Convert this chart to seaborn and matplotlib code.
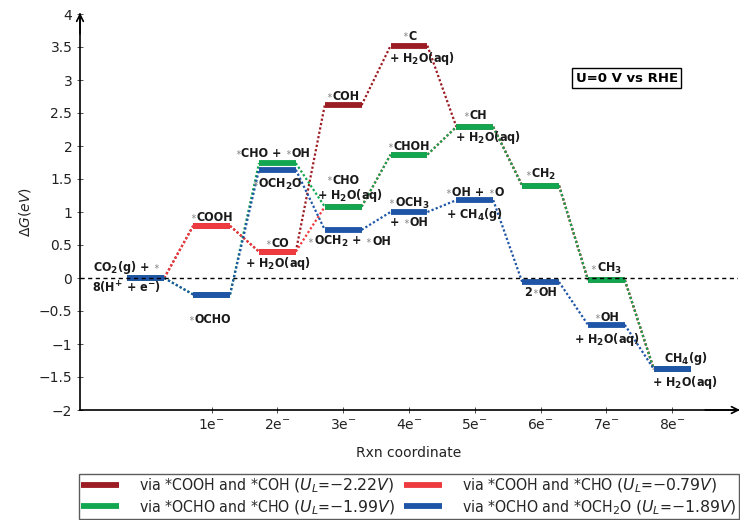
import re
import matplotlib
matplotlib.use("Agg")
import matplotlib.pyplot as plt
import matplotlib.lines as mlines
from matplotlib import font_manager as fm
from matplotlib.transforms import offset_copy
import numpy as np
import pandas as pd
import seaborn as sns

# ---------------- data ----------------
steps = [0, 1, 2, 3, 4, 5, 6, 7, 8]
xtick_pos = [1, 2, 3, 4, 5, 6, 7, 8]
xtick_labels = ["1e$^{-}$", "2e$^{-}$", "3e$^{-}$", "4e$^{-}$",
                "5e$^{-}$", "6e$^{-}$", "7e$^{-}$", "8e$^{-}$"]
ytick_pos = [-2, -1.5, -1, -0.5, 0, 0.5, 1, 1.5, 2, 2.5, 3, 3.5, 4]
ytick_labels = ["\u22122", "\u22121.5", "\u22121", "\u22120.5", "0", "0.5", "1",
                "1.5", "2", "2.5", "3", "3.5", "4"]

pathway_names = [
    r"via *COOH and *COH $\mathit{(U_L}$=$\mathit{-2.22V)}$",
    r"via *COOH and *CHO $\mathit{(U_L}$=$\mathit{-0.79V)}$",
    r"via *OCHO and *CHO $\mathit{(U_L}$=$\mathit{-1.99V)}$",
    r"via *OCHO and *OCH$_2$O $\mathit{(U_L}$=$\mathit{-1.89V)}$",
]
pathway_colors = ["#9b1c22", "#ee3b40", "#12a650", "#1f55a6"]

G_cooh_coh = [0.00, 0.79, 0.40, 2.62, 3.52, 2.29, 1.40, -0.03, -1.38]
G_cooh_cho = [0.00, 0.79, 0.40, 1.08, 1.87, 2.29, 1.40, -0.03, -1.38]
G_ocho_cho = [0.00, -0.25, 1.74, 1.08, 1.87, 2.29, 1.40, -0.03, -1.38]
G_ocho_och2o = [0.00, -0.25, 1.64, 0.73, 1.00, 1.18, -0.06, -0.71, -1.38]
pathway_values = [G_cooh_coh, G_cooh_cho, G_ocho_cho, G_ocho_och2o]

S = "\u2217"
label_texts = [
    "CO$_\\mathbf{2}$(g) + " + S, "8(H$^\\mathbf{+}$ + e$^\\mathbf{-}$)",
    S + "COOH", S + "OCHO",
    S + "CHO + " + S + "OH", S + "OCH$_\\mathbf{2}$O", S + "CO", "+ H$_\\mathbf{2}$O(aq)",
    S + "COH", S + "CHO", "+ H$_\\mathbf{2}$O(aq)", S + "OCH$_\\mathbf{2}$ + " + S + "OH",
    S + "C", "+ H$_\\mathbf{2}$O(aq)", S + "CHOH", S + "OCH$_\\mathbf{3}$", "+ " + S + "OH",
    S + "CH", "+ H$_\\mathbf{2}$O(aq)", S + "OH + " + S + "O", "+ CH$_\\mathbf{4}$(g)",
    S + "CH$_\\mathbf{2}$", "2" + S + "OH",
    S + "CH$_\\mathbf{3}$", S + "OH", "+ H$_\\mathbf{2}$O(aq)",
    "CH$_\\mathbf{4}$(g)", "+ H$_\\mathbf{2}$O(aq)",
]
label_x = [-0.30, -0.30,
           1.00, 0.97,
           1.93, 2.00, 2.00, 2.00,
           3.00, 3.00, 3.10, 3.09,
           4.00, 4.20, 4.00, 4.00, 4.00,
           5.00, 5.20, 5.00, 5.00,
           6.00, 6.00,
           7.00, 7.00, 7.00,
           8.20, 8.20]
label_y = [0.17, -0.15,
           0.93, -0.61,
           1.90, 1.43, 0.54, 0.24,
           2.77, 1.50, 1.27, 0.57,
           3.68, 3.34, 2.01, 1.15, 0.86,
           2.47, 2.14, 1.31, 0.97,
           1.58, -0.20,
           0.16, -0.59, -0.91,
           -1.20, -1.57]

half_w = 0.28

# ---------------- tidy tables ----------------
bar_rows, con_rows = [], []
for name, vals in zip(pathway_names, pathway_values):
    for i, (s, g) in enumerate(zip(steps, vals)):
        bar_rows += [(name, f"b{i}", s - half_w, g), (name, f"b{i}", s + half_w, g)]
        if i < len(steps) - 1:
            con_rows += [(name, f"c{i}", s + half_w, g),
                         (name, f"c{i}", steps[i + 1] - half_w, vals[i + 1])]
bars = pd.DataFrame(bar_rows, columns=["pathway", "unit", "x", "y"])
cons = pd.DataFrame(con_rows, columns=["pathway", "unit", "x", "y"])

# ---------------- style ----------------
sns.set_theme(style="ticks")
plt.rcParams["font.family"] = ["DejaVu Sans"]
plt.rcParams["mathtext.fontset"] = "dejavusans"

_p = fm.findfont(fm.FontProperties(family="DejaVu Sans", stretch="condensed",
                                   weight="bold"))
COND = "Condensed" in _p
LAB_SIZE = 9 if COND else 8
lab_prop = dict(family="DejaVu Sans", stretch="condensed" if COND else "normal",
                size=LAB_SIZE, weight="bold")
STAR_SIZE = LAB_SIZE * 0.62
leg_prop = fm.FontProperties(family="DejaVu Sans",
                             stretch="condensed" if COND else "normal",
                             size=11.3 if COND else 10)

fig = plt.figure(figsize=(7.4, 5.2), dpi=100)
ax = fig.add_axes([80 / 740, 110 / 520, 658 / 740, 396 / 520])

for name, col in zip(pathway_names, pathway_colors):
    sns.lineplot(data=cons[cons.pathway == name], x="x", y="y", units="unit",
                 estimator=None, sort=False, color=col, lw=1.6,
                 linestyle=(0, (1, 1)), ax=ax, legend=False)
    sns.lineplot(data=bars[bars.pathway == name], x="x", y="y", units="unit",
                 estimator=None, sort=False, color=col, lw=4.2,
                 solid_capstyle="butt", ax=ax, legend=False)

ax.axhline(0, color="black", lw=1.0, ls=(0, (3, 2.5)), zorder=5)

ax.set_xlim(-1, 9)
ax.set_ylim(-2, 4)

# ---------------- state labels with small grey asterisks ----------------
renderer = fig.canvas.get_renderer()
px = 100 / 72


def draw_label(x, y, text):
    toks = [t for t in re.split("(" + S + ")", text) if t != ""]
    for i in range(len(toks) - 1):
        stripped = toks[i].rstrip(" ")
        n = len(toks[i]) - len(stripped)
        if n:
            toks[i] = stripped
            toks[i + 1] = " " * n + toks[i + 1]
    objs, widths, raises = [], [], []
    for t in toks:
        is_star = t.strip() == S
        kw = dict(lab_prop)
        if is_star:
            if t.startswith(" "):
                # keep the space at the label size, star smaller
                sp = ax.text(x, y, " ", ha="left", va="baseline", **lab_prop)
                objs.append(sp)
                widths.append(0.30 * LAB_SIZE * px)
                raises.append(0.0)
                t = S
            kw["weight"] = "normal"
            kw["size"] = STAR_SIZE
        o = ax.text(x, y, t, ha="left", va="baseline", zorder=6,
                    color="#8f8f8f" if is_star else "#1a1a1a", **kw)
        objs.append(o)
        w = o.get_window_extent(renderer).width
        widths.append(w + (0.6 if is_star else 0.0))
        raises.append((0.36 * LAB_SIZE - 0.30 * STAR_SIZE) * px if is_star else 0.0)
    total = sum(widths)
    cur = -total / 2.0
    dy = -0.36 * LAB_SIZE * px
    for o, w, r in zip(objs, widths, raises):
        o.set_transform(offset_copy(ax.transData, fig=fig, x=cur, y=dy + r,
                                    units="dots"))
        cur += w


for t, x, y in zip(label_texts, label_x, label_y):
    draw_label(x, y, t)

ax.text(7.31, 3.03, "U=0 V vs RHE", ha="center", va="center", fontsize=9.5,
        fontweight="bold", color="black", zorder=6,
        bbox=dict(boxstyle="square,pad=0.25", fc="white", ec="black", lw=1.0))

ax.set_xticks(xtick_pos)
ax.set_xticklabels(xtick_labels, fontsize=10)
ax.set_yticks(ytick_pos)
ax.set_yticklabels(ytick_labels, fontsize=10)
ax.tick_params(axis="both", direction="inout", length=4, width=0.6, colors="#333333",
               labelcolor="#222222")
ax.set_xlabel("Rxn coordinate", fontsize=10, color="#222222")
ax.set_ylabel(r"$\Delta G(eV)$", fontsize=10, color="#222222")
ax.xaxis.set_label_coords(0.5, -0.092)
ax.yaxis.set_label_coords(-0.072, 0.5)

sns.despine(ax=ax)
for sp in ("left", "bottom"):
    ax.spines[sp].set_linewidth(1.2)
    ax.spines[sp].set_color("black")
ax.annotate("", xy=(1.003, 0), xytext=(0.95, 0), xycoords="axes fraction",
            arrowprops=dict(arrowstyle="->", lw=1.2, color="black",
                            shrinkA=0, shrinkB=0), annotation_clip=False)
ax.annotate("", xy=(0, 1.003), xytext=(0, 0.95), xycoords="axes fraction",
            arrowprops=dict(arrowstyle="->", lw=1.2, color="black",
                            shrinkA=0, shrinkB=0), annotation_clip=False)

# legend: row-major order (matplotlib fills column-wise)
order = [0, 2, 1, 3]
handles = [mlines.Line2D([], [], color=pathway_colors[i], lw=4.2,
                         solid_capstyle="butt") for i in order]
labels = [pathway_names[i] for i in order]
leg = fig.legend(handles, labels, loc="lower left",
                 bbox_to_anchor=(79 / 740, 1 / 520, 660 / 740, 43 / 520),
                 mode="expand", ncol=2, prop=leg_prop, frameon=True,
                 fancybox=False, edgecolor="#333333", borderaxespad=0,
                 handlelength=2.4, borderpad=0.15, labelspacing=0.2,
                 handletextpad=1.3, columnspacing=1.5)
leg.get_frame().set_linewidth(1.0)

fig.savefig("out.png", dpi=100)
